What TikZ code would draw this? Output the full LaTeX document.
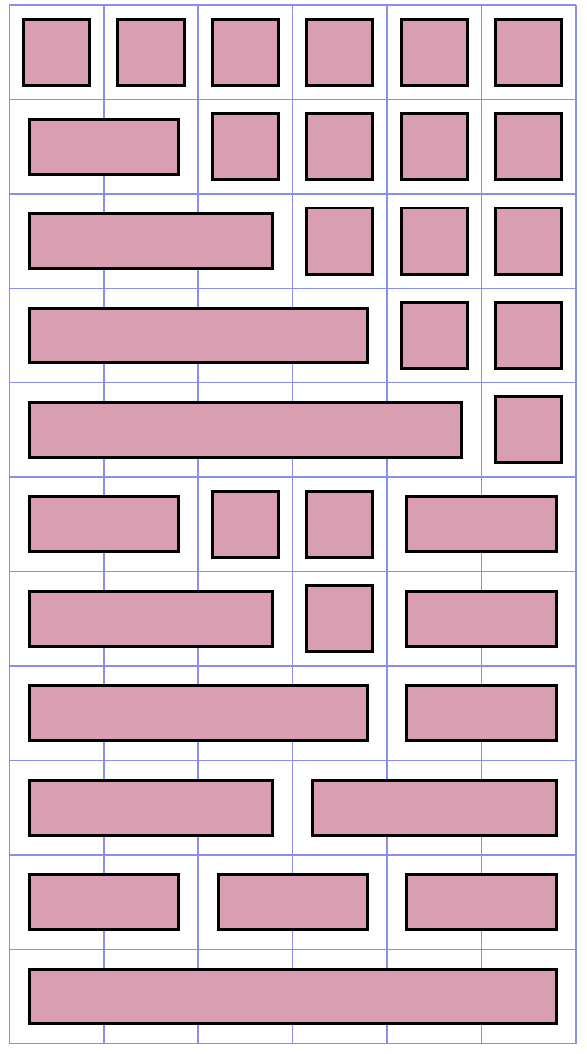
\documentclass[tikz,border=0pt]{standalone}
\definecolor{tilepink}{RGB}{218,158,178}
\definecolor{gridblue}{RGB}{140,140,235}
\tikzset{
 tilesq/.style={draw=black, line width=0.9pt, fill=tilepink},
 tilebar/.style={draw=black, line width=0.9pt, fill=tilepink}
}
\begin{document}
\begin{tikzpicture}
 \useasboundingbox (-0.099,-0.109) rectangle (6.109,11.053);
 \draw[gridblue, line width=0.45pt] (0,0) grid (6,11);
 % single squares: row (from top)/column
 \foreach \r/\c in {1/1,1/2,1/3,1/4,1/5,1/6,2/3,2/4,2/5,2/6,3/4,3/5,3/6,4/5,4/6,5/6,6/3,6/4,7/4}
  \draw[tilesq] (\c-0.85,11.15-\r) rectangle ++(0.7,0.7);
 % long bars: row/first column/last column
 \foreach \r/\a/\b in {2/1/2,3/1/3,4/1/4,5/1/5,6/1/2,6/5/6,7/1/3,7/5/6,8/1/4,8/5/6,9/1/3,9/4/6,10/1/2,10/3/4,10/5/6,11/1/6}
  \draw[tilebar] (\a-0.79,11.21-\r) rectangle (\b-0.21,11.79-\r);
\end{tikzpicture}
\end{document}
